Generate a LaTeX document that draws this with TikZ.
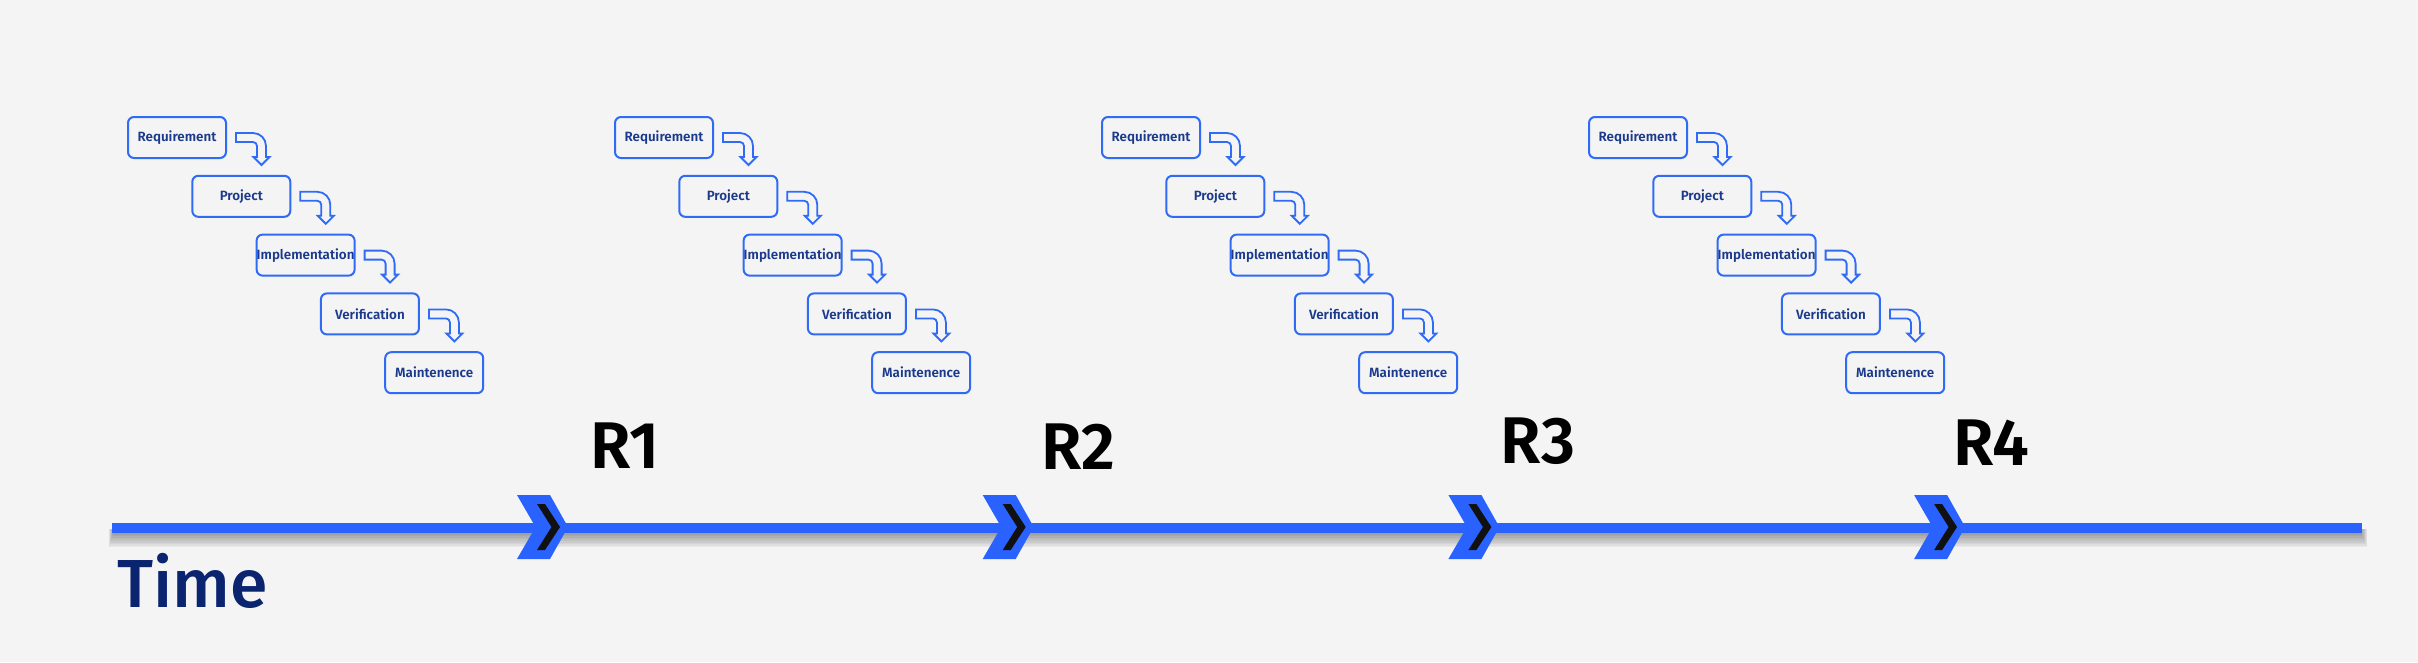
\documentclass[tikz,border=0pt]{standalone}
\usepackage{fontspec}
\setmainfont{Fira Sans}
\newfontfamily\medfont{Fira Sans}[UprightFont=* Medium, BoldFont=* SemiBold]
\definecolor{bg}{HTML}{F4F4F4}
\definecolor{tlblue}{HTML}{2962FF}
\definecolor{boxblue}{HTML}{2F6BF5}
\definecolor{navy}{HTML}{1B3A8C}
\definecolor{timenavy}{HTML}{0A2470}
\definecolor{chevdark}{HTML}{111111}
\begin{document}
\begin{tikzpicture}[x=1pt,y=-1pt,
  box/.style={draw=boxblue, line width=2pt, rounded corners=6pt, minimum width=98pt, minimum height=41pt, outer sep=0pt, inner sep=0pt, font=\medfont\bfseries\fontsize{13.4}{16}\selectfont, text=navy},
  bent/.style={draw=boxblue, line width=1.8pt, line join=miter},
  rlabel/.style={font=\medfont\bfseries\fontsize{66}{70}\selectfont, text=black, anchor=base, inner sep=0pt},
  timelabel/.style={font=\medfont\fontsize{68}{72}\selectfont, text=timenavy, anchor=base west, inner sep=0pt},
  tline/.style={draw=tlblue, line width=10pt}
]
\useasboundingbox (0,0) rectangle (2418,662);
\fill[bg] (0,0) rectangle (2418,662);

% waterfall boxes
\foreach \g in {0,1,2,3} {
  \foreach \i/\t in {0/Requirement,1/Project,2/Implementation,3/Verification,4/Maintenence} {
    \node[box] (b\g\i) at ({177+487*\g+64.3*\i},{137.5+58.8*\i}) {\t};
  }
}
% bent arrows
\foreach \g in {0,1,2,3} {
  \foreach \i in {0,1,2,3} {
    \begin{scope}[shift={(b\g\i.east)}]
      \draw[bent] (10,-4.5) -- (27,-4.5)
        .. controls (34.2,-4.5) and (40,1.3) .. (40,8.5)
        -- (40,19.5) -- (43.5,19.5) -- (35.5,27.5) -- (27.5,19.5) -- (31,19.5)
        -- (31,8.5) .. controls (31,6.3) and (29.2,4.5) .. (27,4.5)
        -- (10,4.5) -- cycle;
    \end{scope}
  }
}

% timeline shadow
\foreach \k in {1,...,9} {
  \fill[black, opacity=0.045] ({113-0.5*\k},529) rectangle ({2361+0.7*\k},{533+1.6*\k});
}
% timeline
\coordinate (tstart) at (112,528);
\coordinate (tend) at (2362,528);
\draw[tline] (tstart) -- (tend);

% chevrons
\foreach \c in {0,1,2,3} {
  \begin{scope}[shift={({465.7*\c},0)}]
    \fill[tlblue] (517,495) -- (550,495) -- (568,527) -- (550,559) -- (517,559) -- (535.5,527) -- cycle;
    \fill[chevdark] (537,504) -- (545,504) -- (560,527) -- (545,550) -- (537,550) -- (551.5,527) -- cycle;
  \end{scope}
}

% release labels
\node[rlabel] (R1) at (625,468) {R1};
\node[rlabel] (R2) at (1078.5,469) {R2};
\node[rlabel] (R3) at (1538,463) {R3};
\node[rlabel] (R4) at (1991.5,465) {R4};

% time label
\node[timelabel] (time) at (117,607) {Time};
\end{tikzpicture}
\end{document}
